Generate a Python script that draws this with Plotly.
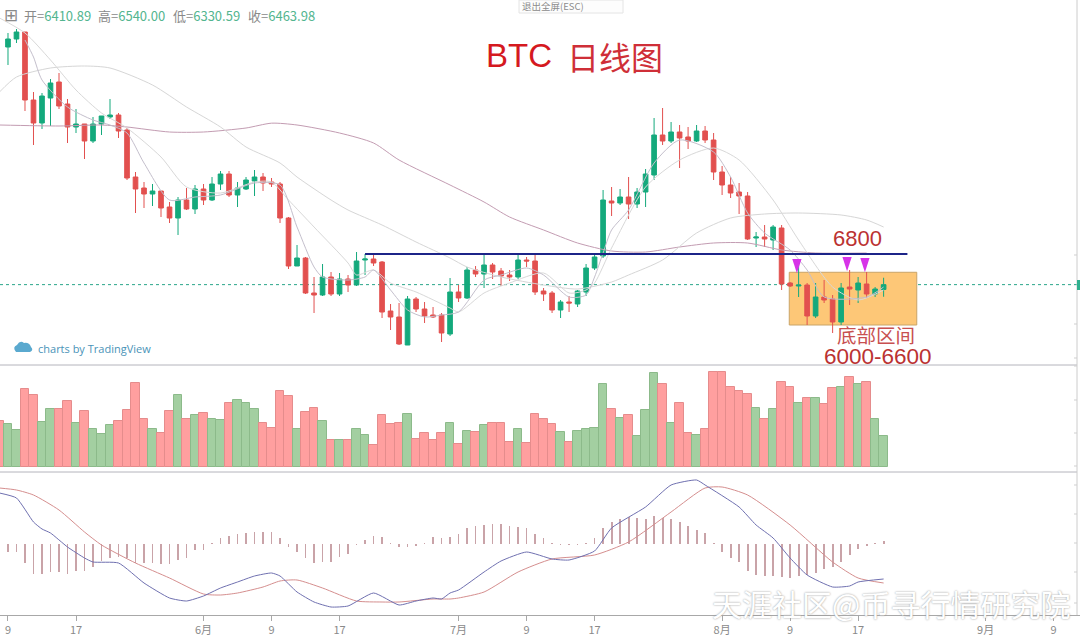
import plotly.graph_objects as go

W, H = 1080, 636

days = list(range(104))
opens = [9078,9166,9243,8495,8242,8517,8693,8451,8198,8231,8044,8231,8308,8330,8165,7648,7527,7461,7494,7318,7197,7395,7296,7516,7395,7571,7681,7450,7516,7604,7648,7593,7571,7197,6669,6757,6372,6350,6548,6361,6526,6460,6735,6746,6713,6174,6108,5800,6306,6196,6130,6130,5921,6383,6317,6625,6581,6680,6614,6570,6548,6735,6724,6394,6372,6185,6273,6251,6383,6647,6779,7384,7362,7428,7351,7483,7670,8110,8044,8143,8088,8044,8154,8055,7703,7560,7483,7439,6977,6988,6955,7087,6482,6449,6460,6119,6328,6306,6053,6438,6405,6471,6361,6410.89]
highs = [9232,9276,9243,8583,8572,8726,8792,8506,8396,8231,8308,8319,8506,8352,8187,7703,7593,7571,7494,7373,7428,7527,7560,7571,7648,7714,7714,7593,7648,7725,7692,7637,7593,7208,6900,6768,6548,6691,6603,6592,6570,6823,6801,6790,6724,6251,6262,6339,6328,6273,6218,6152,6537,6460,6658,6669,6801,6702,6647,6625,6790,6768,6801,6427,6394,6295,6339,6405,6691,6790,7505,7538,7516,7648,7527,7736,8297,8407,8253,8220,8198,8220,8209,8132,7769,7648,7582,7483,7043,7120,7120,7120,6493,6702,6482,6482,6515,6350,6482,6625,6548,6603,6438,6540.00]
lows = [8880,9122,8374,8000,8176,8209,8396,8022,8132,7846,8022,8110,8286,8077,7615,7252,7307,7329,7208,7142,7010,7285,7241,7340,7384,7505,7428,7318,7505,7439,7494,7538,7142,6636,6669,6361,6152,6339,6339,6339,6383,6449,6570,6669,6097,5965,5800,5800,6163,6042,6097,5833,5899,6273,6306,6548,6427,6526,6449,6504,6526,6658,6350,6284,6152,6097,6163,6218,6339,6625,6757,7219,7340,7186,7307,7318,7615,8000,8022,7747,7956,8033,8022,7615,7450,7417,7241,6955,6878,6878,6845,6405,6438,6328,6020,6097,6262,5932,6020,6240,6262,6317,6328,6330.59]
closes = [9166,9243,8495,8242,8539,8682,8429,8198,8231,8044,8231,8319,8330,8154,7637,7516,7461,7494,7307,7197,7395,7296,7516,7395,7571,7681,7450,7527,7615,7648,7582,7571,7197,6669,6757,6372,6350,6548,6361,6526,6460,6724,6746,6702,6163,6108,5811,6306,6196,6119,6108,5932,6383,6317,6625,6581,6680,6603,6559,6548,6735,6724,6383,6361,6185,6273,6262,6394,6647,6768,7395,7362,7428,7351,7483,7681,8110,8044,8143,8077,8044,8154,8055,7703,7560,7472,7439,6966,6988,6966,7098,6471,6449,6460,6119,6328,6295,6053,6427,6416,6482,6361,6416,6463.98]

volume_first = 46
volume = [43,37,78,72,45,58,58,66,44,56,38,33,42,46,57,84,48,38,34,56,72,48,52,54,48,47,64,67,64,58,44,39,76,71,38,55,59,46,27,27,27,38,32,22,52,43,44,53,28,34,27,34,44,23,36,35,42,44,44,25,38,24,53,48,43,35,25,36,38,39,83,58,49,52,31,57,94,83,44,64,34,32,38,95,95,80,76,73,59,48,58,85,80,64,69,69,63,79,80,90,83,85,48,31]

ma_long_days = [-1,6,11,14,19,23,28,31,34,39,43,46,52,56,59,63,67,71,75,79,83,87,91,95,101]
ma_long = [8220,8209,8220,8198,8143,8143,8187,8240,8220,8132,8022,7835,7560,7373,7208,7065,6922,6834,6823,6878,6922,6922,6845,6812,6812]
ma_mid_days = [-1,1,5,9,12,17,21,25,28,32,34,38,40,44,48,52,54,58,63,67,71,73,77,81,85,89,93,98,101,103]
ma_mid = [8583,8748,8847,8869,8847,8660,8418,8198,7978,7802,7648,7395,7285,7120,6933,6757,6658,6548,6460,6416,6493,6570,6735,7032,7197,7241,7252,7230,7175,7098]
ma_short_days = [-1,2,5,8,11,14,18,21,25,29,31,33,36,40,41,43,45,48,52,53,56,59,63,66,68,69,71,75,79,83,86,90,93,97,100,103]
ma_short = [9397,9232,8935,8605,8352,8187,7868,7538,7472,7593,7593,7395,7098,6702,6570,6625,6482,6383,6207,6163,6372,6482,6592,6372,6405,6482,6867,7538,7835,7967,7835,7395,6955,6438,6295,6405]
ma_fast_days = [2,3,4,7,10,12,14,16,19,22,25,29,32,34,36,37,40,42,43,45,47,49,51,53,56,58,61,63,66,68,69,70,71,73,76,79,83,85,87,89,92,94,96,101,103]
ma_fast = [9155,8968,8715,8418,8275,8220,8132,7802,7395,7428,7450,7582,7560,7098,6658,6548,6515,6548,6625,6405,6185,6108,6130,6163,6515,6570,6647,6570,6328,6350,6548,6812,7065,7285,7802,8055,7923,7648,7252,7032,6845,6625,6328,6328,6438]

macd_days = [-1,1,3,4,5,7,9,10,13,16,19,21,23,25,27,29,31,32,34,36,38,40,43,46,48,50,51,52,53,56,58,61,64,66,69,71,75,78,81,82,86,88,90,92,94,97,99,100,103]
macd = [255,230,110,75,55,-15,-70,-90,-95,-195,-270,-285,-260,-220,-190,-160,-145,-160,-240,-290,-315,-310,-245,-305,-285,-270,-275,-245,-230,-140,-85,-40,-75,-80,-35,80,185,295,320,295,185,95,30,-70,-155,-215,-210,-190,-175]
signal_days = [-1,1,3,6,9,11,15,19,23,25,27,30,32,34,37,41,44,46,50,52,53,56,60,64,69,73,78,82,84,87,92,97,100,103]
signal = [280,270,245,170,60,-5,-95,-170,-250,-255,-245,-215,-185,-180,-220,-285,-290,-290,-275,-275,-270,-240,-140,-75,-55,10,160,280,285,245,95,-90,-170,-195]
hist = [-38,-42,-97,-152,-152,-142,-142,-150,-135,-133,-113,-85,-68,-63,-72,-93,-97,-97,-102,-102,-82,-68,-30,-30,3,32,40,50,55,62,58,58,32,-13,-38,-72,-97,-92,-92,-67,-52,-5,20,40,37,3,-13,-13,-8,3,33,28,37,48,78,90,95,100,98,90,83,78,48,32,3,-2,-5,-5,3,28,82,108,125,137,128,125,140,132,125,108,92,70,53,3,-38,-68,-92,-133,-155,-158,-158,-163,-172,-160,-155,-147,-127,-117,-92,-55,-25,-10,3,17]

tick_days = [0,8,23,31,39,53,61,69,84,92,100,115,123]
tick_labels = ["9","17","6月","9","17","7月","9","17","8月","9","17","9月","9"]

resistance = 6800
zone_low, zone_high = 6020, 6600
last_close = 6463.98
arrow_days = [92.8, 98.7, 100.8]
arrow_prices = [6590, 6610, 6600]

GREEN, RED = "#14a97c", "#e2504f"
CJK = "Noto Sans CJK SC"


def px(x):
    return x / W


def py(y):
    return 1 - y / H


fig = go.Figure()
fig.add_trace(go.Candlestick(
    x=days, open=opens, high=highs, low=lows, close=closes, whiskerwidth=0,
    increasing=dict(line=dict(color=GREEN, width=1), fillcolor=GREEN),
    decreasing=dict(line=dict(color=RED, width=1), fillcolor=RED),
    xaxis="x", yaxis="y", hoverinfo="skip"))
for dd, vv, col in [(ma_long_days, ma_long, "#c39cb2"), (ma_mid_days, ma_mid, "#d6d6d6"),
                    (ma_short_days, ma_short, "#d8d8d8"), (ma_fast_days, ma_fast, "#c4bfcc")]:
    fig.add_trace(go.Scatter(x=dd, y=vv, mode="lines",
                             line=dict(color=col, width=1, shape="spline", smoothing=0.7), yaxis="y"))
fig.add_trace(go.Scatter(
    x=arrow_days, y=arrow_prices, mode="markers", yaxis="y",
    marker=dict(symbol="arrow", size=15, color="#d733e8", angle=180, line=dict(width=0))))

vol_days = [-1] + days
vol_vals = [volume_first] + volume
up = [False] + [c >= o for o, c in zip(opens, closes)]
fig.add_trace(go.Bar(
    x=vol_days, y=vol_vals, width=1, yaxis="y2",
    marker=dict(color=["#a3cfa1" if u else "#ff9f9f" for u in up],
                line=dict(color=["#8cba8a" if u else "#e58c8c" for u in up], width=1))))

fig.add_trace(go.Bar(x=days, y=hist, width=0.1, yaxis="y3",
                     marker=dict(color="#c9a3a8", line=dict(width=0))))
fig.add_trace(go.Scatter(x=signal_days, y=signal, mode="lines", yaxis="y3",
                         line=dict(color="#d58e8e", width=1, shape="spline", smoothing=0.6)))
fig.add_trace(go.Scatter(x=macd_days, y=macd, mode="lines", yaxis="y3",
                         line=dict(color="#6f70b0", width=1, shape="spline", smoothing=0.5)))

shapes = [
    dict(type="rect", xref="x", yref="y", x0=91.9, x1=106.9, y0=zone_low, y1=zone_high,
         fillcolor="#fdc777", line=dict(color="#c9a468", width=1), layer="below"),
    dict(type="line", xref="paper", yref="y", x0=0, x1=px(1077), y0=last_close, y1=last_close,
         line=dict(color="#2aa58a", width=1, dash="dot"), layer="below"),
    dict(type="line", xref="x", yref="y", x0=42, x1=105.8, y0=resistance, y1=resistance,
         line=dict(color="#1c2488", width=2)),
    dict(type="line", xref="paper", yref="paper", x0=0, x1=px(1077), y0=py(365), y1=py(365),
         line=dict(color="#b4b4bc", width=1)),
    dict(type="line", xref="paper", yref="paper", x0=0, x1=px(1077), y0=py(472), y1=py(472),
         line=dict(color="#b4b4bc", width=1)),
    dict(type="line", xref="paper", yref="paper", x0=px(1077), x1=px(1077), y0=py(615), y1=1,
         line=dict(color="#cccccc", width=1)),
    dict(type="rect", xref="paper", yref="paper", x0=px(1077), x1=1, y0=py(290), y1=py(280),
         fillcolor="#2fb08f", line=dict(width=0)),
    dict(type="rect", xref="paper", yref="paper", x0=px(519), x1=px(623), y0=py(13), y1=1,
         fillcolor="#fdfdfd", line=dict(color="#e4e4e4", width=1)),
    dict(type="path", xref="paper", yref="paper",
         path="M %f %f L %f %f Q %f %f %f %f Q %f %f %f %f Q %f %f %f %f Q %f %f %f %f Z" % (
             px(16), py(352), px(30), py(352), px(34), py(350), px(31), py(347),
             px(29), py(342), px(24), py(343), px(20), py(340), px(17), py(345),
             px(12), py(347), px(16), py(352)),
         fillcolor="#5aa9cf", line=dict(width=0)),
]
for p in [255, 324, 358, 366, 400, 433, 466, 485, 514, 543, 572, 603]:
    shapes.append(dict(type="line", xref="paper", yref="paper", x0=px(1074), x1=px(1077),
                       y0=py(p), y1=py(p), line=dict(color="#cfcfcf", width=1)))


def note(text, x, y, size, color, family=CJK, anchor="left", **font):
    return dict(text=text, x=px(x), y=py(y), xref="paper", yref="paper", showarrow=False,
                xanchor=anchor, yanchor="middle", font=dict(size=size, color=color, family=family, **font))


def head(label, value):
    return f'<span style="color:#8a8a8a">{label}=</span><span style="color:#53b58f">{value}</span>'


annotations = [
    note("⊞", 11, 14, 17, "#8a8a8a", anchor="center"),
    note(head("开", "6410.89"), 22, 15, 13, "#8a8a8a"),
    note(head("高", "6540.00"), 96, 15, 13, "#8a8a8a"),
    note(head("低", "6330.59"), 171, 15, 13, "#8a8a8a"),
    note(head("收", "6463.98"), 246, 15, 13, "#8a8a8a"),
    note("退出全屏(ESC)", 520, 5.5, 9.5, "#8c8c8c"),
    note("BTC", 484, 56, 33, "#d5191f", family="Liberation Sans"),
    note("日线图", 565, 56, 32, "#cf2f38"),
    note("6800", 831, 239, 22, "#bb3232", family="Liberation Sans"),
    note("底部区间", 835, 334, 19.5, "#c85050"),
    note("6000-6600", 822, 356, 22.5, "#bb3232", family="Liberation Sans"),
    note("charts by TradingView", 36, 348, 11, "#4a93b8", family="Open Sans"),
    note("天涯社区@币寻行情研究院", 710, 603, 30, "#ffffff", shadow="0px 0px 2px #8f8f8f"),
]

fig.update_layout(
    width=W, height=H, margin=dict(l=0, r=0, t=0, b=0), autosize=False,
    paper_bgcolor="white", plot_bgcolor="white", showlegend=False, barmode="overlay",
    bargap=0, boxgap=0.22, shapes=shapes, annotations=annotations, hovermode=False,
    xaxis=dict(range=[-0.94, 126.1], domain=[0, 1], anchor="y3", rangeslider=dict(visible=False),
               showgrid=False, zeroline=False, showline=True, linecolor="#a8a8a8", linewidth=1,
               tickmode="array", tickvals=tick_days, ticktext=tick_labels, ticks="outside",
               ticklen=5, tickcolor="#a8a8a8", tickfont=dict(size=11, color="#8a8a8a", family=CJK)),
    yaxis=dict(domain=[py(365), 1], range=[5580, 9595], visible=False, anchor="x"),
    yaxis2=dict(domain=[py(472), py(365)], range=[-5, 102], visible=False, anchor="x"),
    yaxis3=dict(domain=[py(615), py(472)], range=[-355, 360], visible=False, anchor="x"),
)

fig.write_html("out.html", config={"displayModeBar": False},
               post_script="document.body.style.margin='0';document.documentElement.style.overflow='hidden';")
